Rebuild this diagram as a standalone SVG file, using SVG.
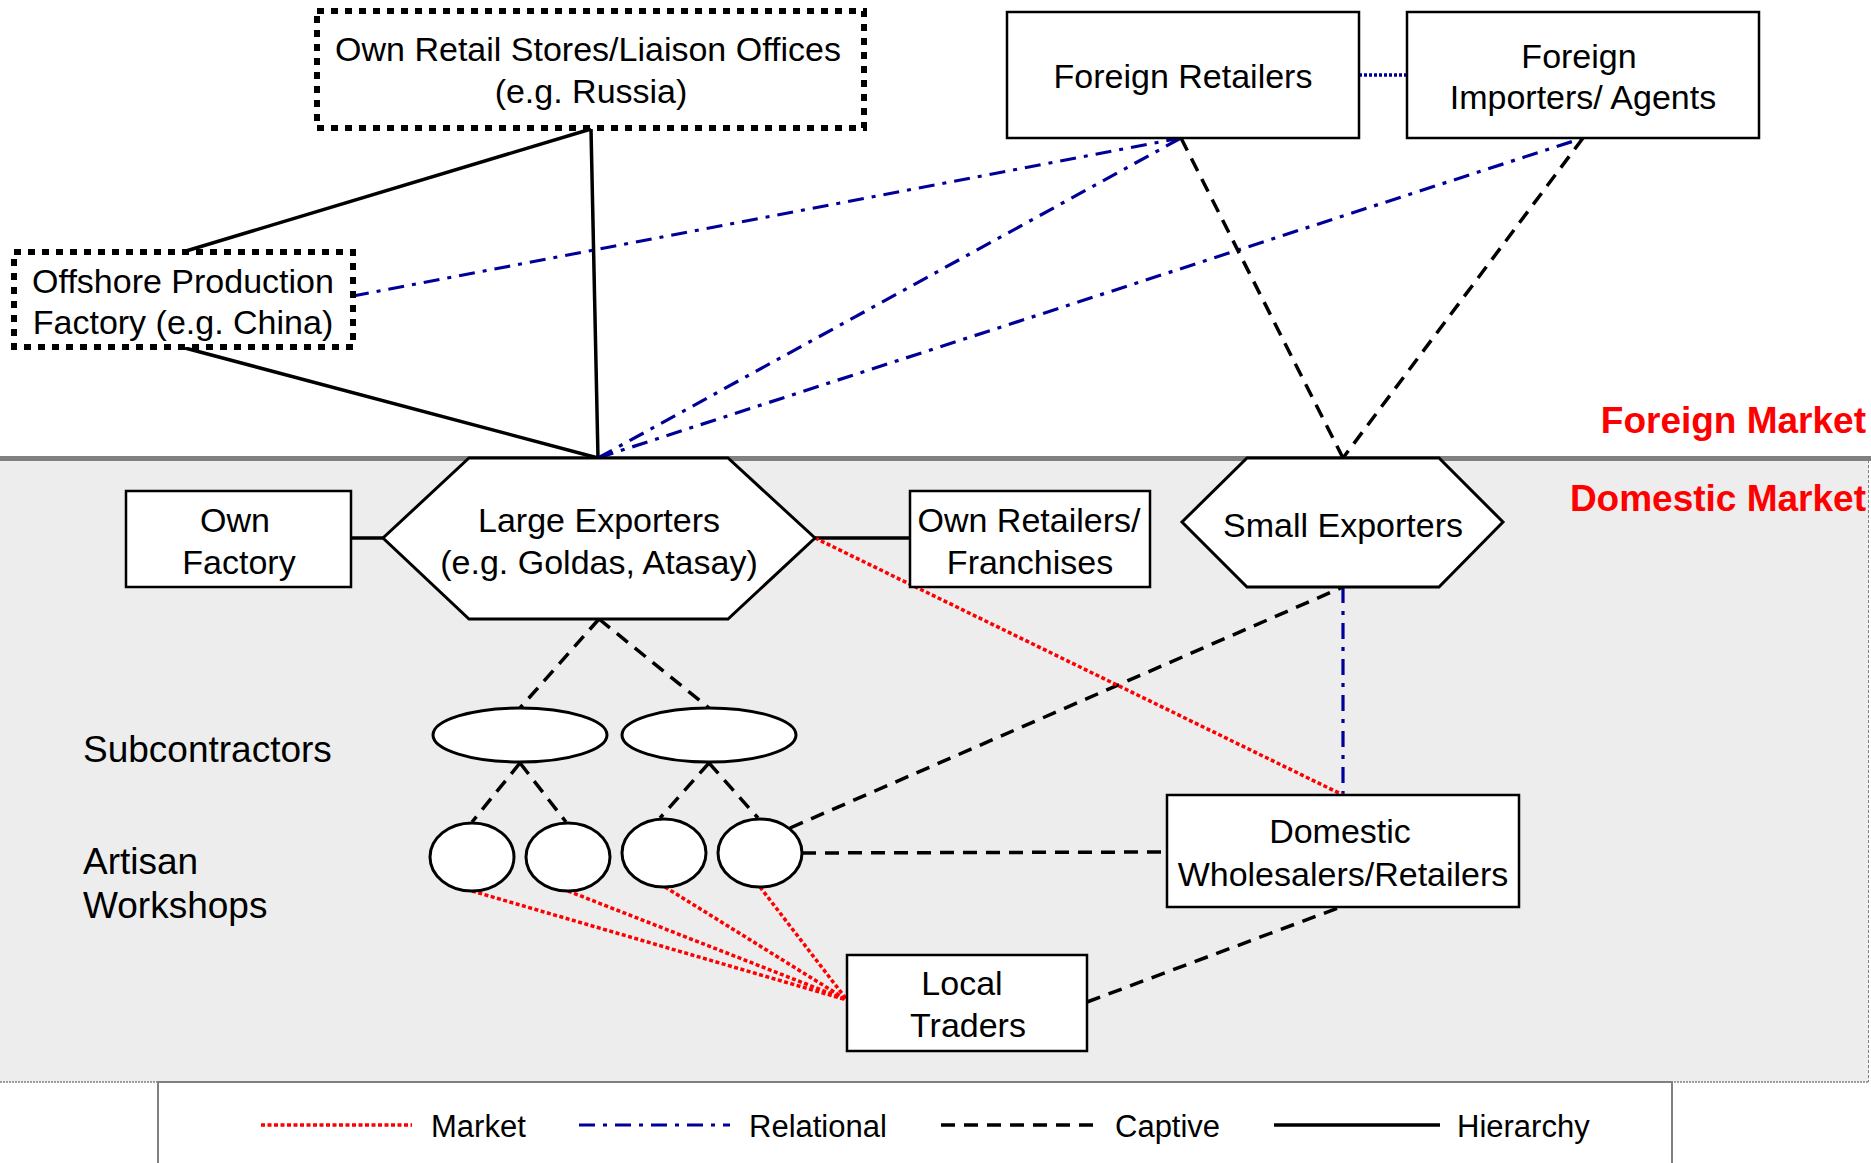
<svg xmlns="http://www.w3.org/2000/svg" width="1871" height="1163" viewBox="0 0 1871 1163">
  <style>
    text { font-family: "Liberation Sans", Arial, sans-serif; fill: #000; }
    .lbl { font-size: 34px; text-anchor: middle; }
    .side { font-size: 37px; }
    .mkt { font-size: 37px; font-weight: bold; fill: #ff0000; text-anchor: end; }
    .leg { font-size: 31px; }
    .box { fill: #fff; stroke: #000; stroke-width: 2.5; }
    .dotbox { fill: #fff; stroke: #000; stroke-width: 6; stroke-dasharray: 7 7; }
    .oval { fill: #fff; stroke: #000; stroke-width: 3; }
    .hierarchy { fill: none; stroke: #000; stroke-width: 3.5; }
    .captive { fill: none; stroke: #000; stroke-width: 3.5; stroke-dasharray: 14 9; }
    .relational { fill: none; stroke: #000099; stroke-width: 3.2; stroke-dasharray: 16 8 4 8; }
    .reldot { fill: none; stroke: #000099; stroke-width: 3.5; stroke-dasharray: 3 2; }
    .market { fill: none; stroke: #ff0000; stroke-width: 3.5; stroke-dasharray: 4 2.5; }
  </style>

  <!-- background: domestic market band and legend frame -->
  <g id="background">
    <rect x="0" y="0" width="1871" height="1163" fill="#fff"/>
    <rect x="0" y="458" width="1869" height="624" fill="#ededed"/>
    <line x1="1868.5" y1="460" x2="1868.5" y2="1082" stroke="#808080" stroke-width="1" stroke-dasharray="3 2"/>
    <line x1="0" y1="1082" x2="1869" y2="1082" stroke="#808080" stroke-width="1.5" stroke-dasharray="2 1"/>
    <line x1="0" y1="458.5" x2="1871" y2="458.5" stroke="#808080" stroke-width="5"/>
    <rect x="158" y="1082" width="1514" height="90" fill="#fff" stroke="#808080" stroke-width="2"/>
    <text class="mkt" x="1866" y="433">Foreign Market</text>
    <text class="mkt" x="1866" y="511">Domestic Market</text>
  </g>

  <!-- connectors -->
  <g id="connectors">
    <!-- hierarchy -->
    <path class="hierarchy" d="M591,129 L186,251"/>
    <path class="hierarchy" d="M591,129 L598,458"/>
    <path class="hierarchy" d="M185,348 L598,458"/>
    <path class="hierarchy" d="M351,538 L383,538"/>
    <path class="hierarchy" d="M815,538 L910,538"/>
    <!-- relational -->
    <path class="relational" d="M353,296 L1181,138"/>
    <path class="relational" d="M598,458 L1181,138"/>
    <path class="relational" d="M598,458 L1583,138"/>
    <path class="relational" d="M1343,587 L1343,795"/>
    <path class="reldot" d="M1359,75 L1407,75"/>
    <!-- captive -->
    <path class="captive" d="M1181,138 L1343,458"/>
    <path class="captive" d="M1583,138 L1343,458"/>
    <path class="captive" d="M599,619 L520,708"/>
    <path class="captive" d="M599,619 L709,708"/>
    <path class="captive" d="M520,763 L472,822"/>
    <path class="captive" d="M520,763 L566,822"/>
    <path class="captive" d="M709,763 L660,818"/>
    <path class="captive" d="M709,763 L758,818"/>
    <path class="captive" d="M790,828 L1343,587"/>
    <path class="captive" d="M802,853 L1167,852"/>
    <path class="captive" d="M1087,1002 L1338,908"/>
    <!-- market -->
    <path class="market" d="M815,538 L1343,795"/>
    <path class="market" d="M472,891 L847,1000"/>
    <path class="market" d="M568,891 L847,1000"/>
    <path class="market" d="M665,887 L847,1000"/>
    <path class="market" d="M760,887 L847,1000"/>
  </g>

  <!-- foreign market nodes -->
  <g id="own-retail-stores">
    <rect class="dotbox" x="317" y="11" width="547" height="117"/>
    <text class="lbl" x="588" y="61">Own Retail Stores/Liaison Offices</text>
    <text class="lbl" x="591" y="103">(e.g. Russia)</text>
  </g>
  <g id="offshore-factory">
    <rect class="dotbox" x="14" y="252" width="339" height="95"/>
    <text class="lbl" x="183" y="293">Offshore Production</text>
    <text class="lbl" x="183" y="334">Factory (e.g. China)</text>
  </g>
  <g id="foreign-retailers">
    <rect class="box" x="1007" y="12" width="352" height="126"/>
    <text class="lbl" x="1183" y="88">Foreign Retailers</text>
  </g>
  <g id="foreign-importers">
    <rect class="box" x="1407" y="12" width="352" height="126"/>
    <text class="lbl" x="1579" y="68">Foreign</text>
    <text class="lbl" x="1583" y="109">Importers/ Agents</text>
  </g>

  <!-- domestic market nodes -->
  <g id="own-factory">
    <rect class="box" x="126" y="491" width="225" height="96"/>
    <text class="lbl" x="235" y="532">Own</text>
    <text class="lbl" x="239" y="574">Factory</text>
  </g>
  <g id="large-exporters">
    <polygon class="oval" points="469,458 728,458 815,538 728,619 469,619 383,538"/>
    <text class="lbl" x="599" y="532">Large Exporters</text>
    <text class="lbl" x="599" y="574">(e.g. Goldas, Atasay)</text>
  </g>
  <g id="own-retailers">
    <rect class="box" x="910" y="491" width="240" height="96"/>
    <text class="lbl" x="1029" y="532">Own Retailers/</text>
    <text class="lbl" x="1030" y="574">Franchises</text>
  </g>
  <g id="small-exporters">
    <polygon class="oval" points="1247,458 1439,458 1503,522 1439,587 1247,587 1182,522"/>
    <text class="lbl" x="1343" y="537">Small Exporters</text>
  </g>
  <g id="subcontractor-1">
    <ellipse class="oval" cx="520" cy="735" rx="87" ry="27"/>
  </g>
  <g id="subcontractor-2">
    <ellipse class="oval" cx="709" cy="735" rx="87" ry="27"/>
  </g>
  <g id="workshop-1">
    <ellipse class="oval" cx="472" cy="857" rx="42" ry="34"/>
  </g>
  <g id="workshop-2">
    <ellipse class="oval" cx="568" cy="857" rx="42" ry="34"/>
  </g>
  <g id="workshop-3">
    <ellipse class="oval" cx="664" cy="853" rx="42" ry="34"/>
  </g>
  <g id="workshop-4">
    <ellipse class="oval" cx="760" cy="853" rx="42" ry="34"/>
  </g>
  <g id="domestic-wholesalers">
    <rect class="box" x="1167" y="795" width="352" height="112"/>
    <text class="lbl" x="1340" y="843">Domestic</text>
    <text class="lbl" x="1343" y="886">Wholesalers/Retailers</text>
  </g>
  <g id="local-traders">
    <rect class="box" x="847" y="955" width="240" height="96"/>
    <text class="lbl" x="962" y="995">Local</text>
    <text class="lbl" x="968" y="1037">Traders</text>
  </g>

  <!-- tier labels -->
  <g id="tier-labels">
    <text class="side" x="83" y="762">Subcontractors</text>
    <text class="side" x="83" y="874">Artisan</text>
    <text class="side" x="83" y="918">Workshops</text>
  </g>

  <!-- legend -->
  <g id="legend">
    <line class="market" x1="261" y1="1125" x2="412" y2="1125"/>
    <text class="leg" x="431" y="1137">Market</text>
    <line class="relational" x1="579" y1="1125" x2="730" y2="1125"/>
    <text class="leg" x="749" y="1137">Relational</text>
    <line class="captive" x1="941" y1="1125" x2="1096" y2="1125"/>
    <text class="leg" x="1115" y="1137">Captive</text>
    <line class="hierarchy" x1="1274" y1="1125" x2="1440" y2="1125"/>
    <text class="leg" x="1457" y="1137">Hierarchy</text>
  </g>
</svg>
